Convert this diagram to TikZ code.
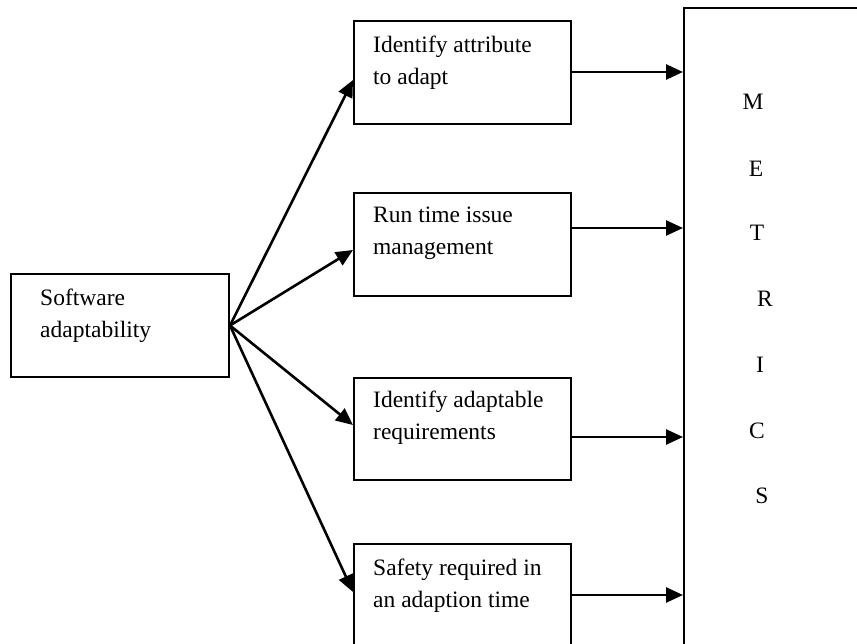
\documentclass[tikz,border=0pt]{standalone}
\usepackage{fontspec}
\setmainfont{Liberation Serif}
\usetikzlibrary{arrows.meta}
\begin{document}
\begin{tikzpicture}[x=1pt,y=-1pt,
  box/.style={draw,line width=2pt,rectangle,inner sep=0pt,anchor=north west,minimum width=217pt,minimum height=103pt},
  txt/.style={anchor=north west,align=left,inner sep=0pt,font=\fontsize{23.5}{31.5}\selectfont},
  letter/.style={anchor=base,inner sep=0pt,font=\fontsize{23.5}{28}\selectfont},
  arr/.style={line width=2.6pt,-{Triangle[length=17pt,width=15pt]}}]
\useasboundingbox (0,0) rectangle (857,644);
\clip (0,0) rectangle (857,644);
\node[box,minimum width=218pt] (src) at (10,273) {};
\node[box] (b1) at (353,20) {};
\node[box] (b2) at (353,192) {};
\node[box,minimum height=102pt] (b3) at (353,377) {};
\node[box] (b4) at (353,543) {};
\node[draw,line width=2pt,rectangle,inner sep=0pt,anchor=north west,minimum width=250pt,minimum height=720pt] (met) at (683,7) {};
\node[txt] (tsrc) at (40,289) {Software\\adaptability};
\node[txt] (t1) at (373,36) {Identify attribute\\to adapt};
\node[txt] (t2) at (373,207) {Run time issue\\management};
\node[txt] (t3) at (373,391) {Identify adaptable\\requirements};
\node[txt] (t4) at (373,559) {Safety required in\\an adaption time};
\node[letter] (lm) at (753,110) {M};
\node[letter] (le) at (756,177) {E};
\node[letter] (lt) at (757,241) {T};
\node[letter] (lr) at (765,307) {R};
\node[letter] (li) at (760,372) {I};
\node[letter] (lc) at (757,438) {C};
\node[letter] (ls) at (762,503) {S};
\coordinate (p1) at ([yshift=-60pt]b1.north west);
\coordinate (p2) at ([yshift=-58pt]b2.north west);
\coordinate (p3) at ([yshift=-48pt]b3.north west);
\coordinate (p4) at ([yshift=-49pt]b4.north west);
\draw[arr] (src.east) -- (p1);
\draw[arr] (src.east) -- (p2);
\draw[arr] (src.east) -- (p3);
\draw[arr] (src.east) -- (p4);
\coordinate (q1) at ([yshift=-52pt]b1.north east);
\coordinate (q2) at ([yshift=-36pt]b2.north east);
\coordinate (q3) at ([yshift=-60pt]b3.north east);
\coordinate (q4) at ([yshift=-52pt]b4.north east);
\draw[arr] (q1) -- (q1 -| met.west);
\draw[arr] (q2) -- (q2 -| met.west);
\draw[arr] (q3) -- (q3 -| met.west);
\draw[arr] (q4) -- (q4 -| met.west);
\end{tikzpicture}
\end{document}
